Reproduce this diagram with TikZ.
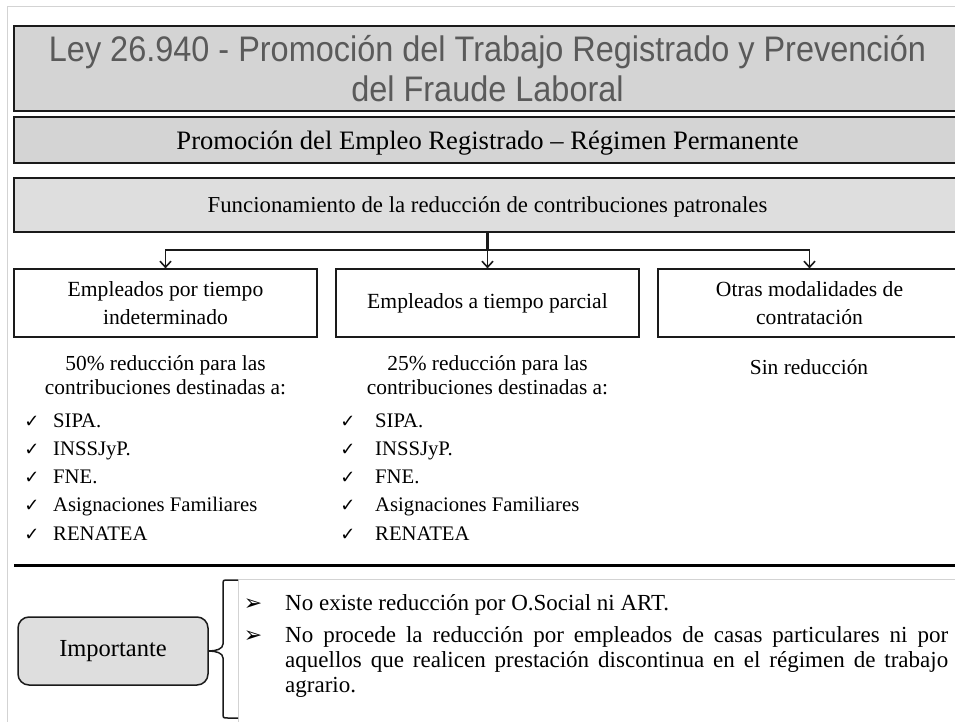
\documentclass[tikz,border=0pt]{standalone}
\usepackage{fontspec}
\setmainfont{Liberation Serif}
\newfontfamily\titlefont[FakeStretch=0.914]{Liberation Sans}
\newfontfamily\symfont{DejaVu Sans}
\usetikzlibrary{arrows.meta}
\definecolor{boxgray}{HTML}{D4D4D4}
\definecolor{boxgraylt}{HTML}{DEDEDE}
\definecolor{titlegray}{HTML}{5A5A5A}
\definecolor{framegray}{HTML}{D3D3D3}
\definecolor{edge}{HTML}{1A1A1A}
\tikzset{
  hdrbox/.style={draw=edge, line width=1.3pt, inner sep=0pt, minimum width=947pt, align=center},
  rowbox/.style={draw=edge, line width=1.2pt, fill=white, inner sep=0pt, minimum width=303pt, minimum height=68pt, align=center, font=\fontsize{21.6}{28}\selectfont},
  branch/.style={draw=edge, line width=1.6pt, -{Straight Barb[length=6pt,width=11pt,line width=1.6pt]}},
  listhead/.style={anchor=base, font=\fontsize{21.4}{24}\selectfont},
  chk/.style={anchor=base, font=\symfont\fontsize{18}{20}\selectfont},
  item/.style={anchor=base west, inner sep=0pt, font=\fontsize{20.7}{24}\selectfont},
  arrbul/.style={anchor=base, font=\symfont\fontsize{22}{24}\selectfont},
}
\begin{document}
\begin{tikzpicture}[x=1pt,y=-1pt]
\useasboundingbox (0,0) rectangle (955,722);
\clip (0,0) rectangle (955,722);
% outer light frame
\draw[framegray, line width=1pt] (7,722) -- (7,7) -- (955,7);
% header boxes
\node[hdrbox, fill=boxgray, minimum height=85pt, font=\titlefont\fontsize{35.5}{40}\selectfont, text=titlegray] (title) at (487.5,68.5)
  {Ley 26.940 - Promoción del Trabajo Registrado y Prevención\\del Fraude Laboral};
\node[hdrbox, fill=boxgray, minimum height=46pt, text depth=0pt, font=\fontsize{26.6}{32}\selectfont] (sub) at (487.5,140)
  {Promoción del Empleo Registrado – Régimen Permanente};
\node[hdrbox, fill=boxgraylt, minimum height=54pt, text depth=0pt, font=\fontsize{22.8}{26}\selectfont] (func) at (487.5,205)
  {Funcionamiento de la reducción de contribuciones patronales};
% row boxes
\node[rowbox] (b1) at (165.5,303) {Empleados por tiempo\\indeterminado};
\node[rowbox] (b2) at (487.5,303) {Empleados a tiempo parcial};
\node[rowbox] (b3) at (809.5,303) {Otras modalidades de\\contratación};
% connectors
\coordinate (j) at (487.5,250);
\draw[edge, line width=2.8pt] (func.south) -- (j);
\draw[branch] (j) -| (b1.north);
\draw[branch] (j) -- (b2.north);
\draw[branch] (j) -| (b3.north);
% column 1 text
\node[listhead] (h1a) at (165.5,370) {50\% reducción para las};
\node[listhead] (h1b) at (165.5,394) {contribuciones destinadas a:};
\foreach \t [count=\i] in {SIPA., INSSJyP., FNE., Asignaciones Familiares, RENATEA}{
  \pgfmathsetmacro{\yy}{420+28.3*(\i-1)+7}
  \node[chk] (c1\i) at (32,\yy) {✓};
  \node[item] (t1\i) at (53,\yy) {\t};
}
% column 2 text
\node[listhead] (h2a) at (487.5,370) {25\% reducción para las};
\node[listhead] (h2b) at (487.5,394) {contribuciones destinadas a:};
\foreach \t [count=\i] in {SIPA., INSSJyP., FNE., Asignaciones Familiares, RENATEA}{
  \pgfmathsetmacro{\yy}{420+28.3*(\i-1)+7}
  \node[chk] (c2\i) at (348,\yy) {✓};
  \node[item] (t2\i) at (375,\yy) {\t};
}
% column 3 text
\node[listhead] (h3) at (809,374) {Sin reducción};
% separator
\draw[black, line width=3pt] (14,565) -- (955,565);
% important note frame
\draw[framegray, line width=0.8pt] (238,722) -- (238,579) -- (955,579);
\node[draw=edge, line width=1.5pt, fill=boxgraylt, rounded corners=11pt, minimum width=190pt, minimum height=68pt, font=\fontsize{24.5}{28}\selectfont] (imp) at (113,651) {Importante};
\draw[edge, line width=1.5pt] (238,580) -- (228,580) .. controls (223,580) .. (223,585) -- (223,644) .. controls (223,649) and (216,651) .. (imp.east);
\draw[edge, line width=1.5pt] (238,718) -- (228,718) .. controls (223,718) .. (223,713) -- (223,658) .. controls (223,653) and (216,651) .. (imp.east);
% bullets
\node[arrbul] (a1) at (253,610) {➢};
\node[item, font=\fontsize{23}{25}\selectfont] (n1) at (285,610) {No existe reducción por O.Social ni ART.};
\node[arrbul] (a2) at (253,642) {➢};
\node[anchor=base west, inner sep=0pt, text width=663pt, align=justify, font=\fontsize{23}{25}\selectfont] (n2) at (285,642)
  {No procede la reducción por empleados de casas particulares ni por\linebreak aquellos que realicen prestación discontinua en el régimen de trabajo\linebreak agrario.};
\end{tikzpicture}
\end{document}
